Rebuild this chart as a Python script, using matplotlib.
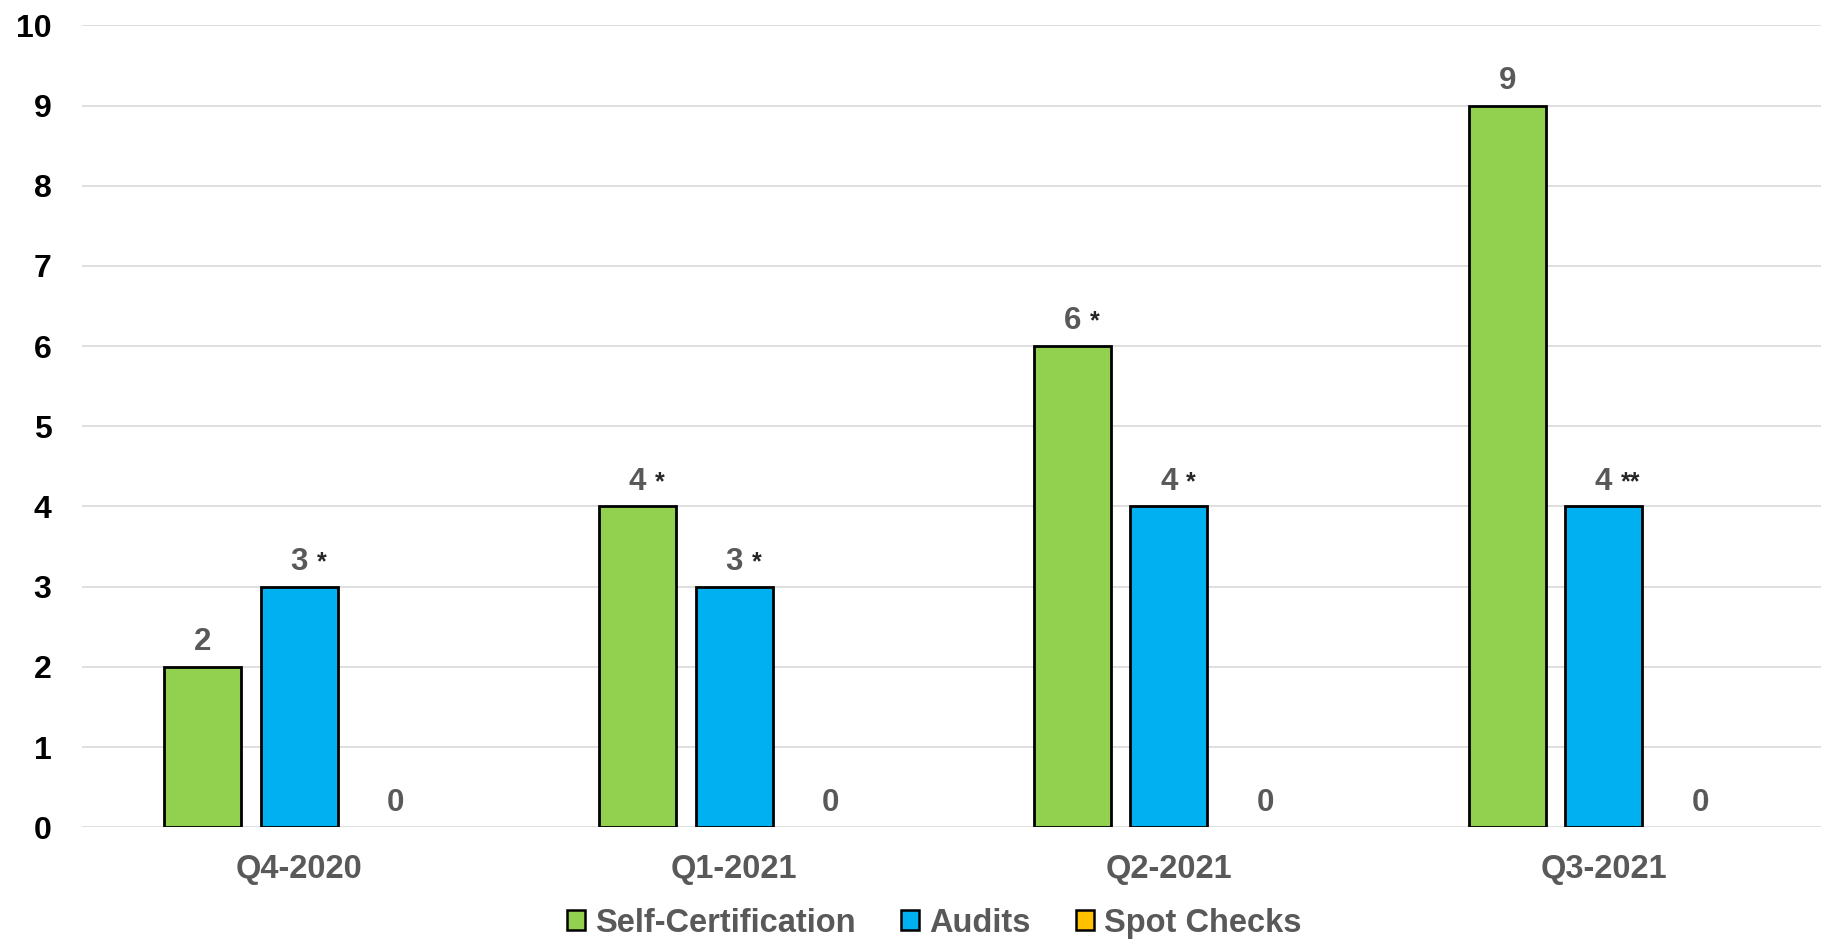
import matplotlib
matplotlib.use("Agg")
import matplotlib.pyplot as plt
from matplotlib.patches import Patch
import numpy as np

categories = ["Q4-2020", "Q1-2021", "Q2-2021", "Q3-2021"]
series_names = ["Self-Certification", "Audits", "Spot Checks"]
self_cert = [2, 4, 6, 9]
audits = [3, 3, 4, 4]
spot_checks = [0, 0, 0, 0]
self_cert_marks = ["", "*", "*", ""]
audits_marks = ["*", "*", "*", "**"]
spot_marks = ["", "", "", ""]
y_ticks = list(range(0, 11))

colors = ["#92D050", "#00B0F0", "#FFC000"]

plt.rcParams['font.family'] = ['Liberation Sans', 'DejaVu Sans']

fig = plt.figure(figsize=(18.21, 9.40), dpi=100)
ax = fig.add_axes([0.045, 0.12, 0.955, 0.853])

x = np.arange(len(categories))
offset = 0.222
width = 0.177
data = [self_cert, audits, spot_checks]
marks = [self_cert_marks, audits_marks, spot_marks]

for i, (vals, mk, col, name) in enumerate(zip(data, marks, colors, series_names)):
    pos = x + (i - 1) * offset
    lws = [2.0 if v != 0 else 0 for v in vals]
    ax.bar(pos, vals, width, color=col, edgecolor="black", linewidth=lws,
           label=name, zorder=3)
    for px, v, m in zip(pos, vals, mk):
        ax.annotate(str(v), xy=(px, v), xytext=(0, 12), textcoords="offset points",
                    ha="center", va="baseline", fontsize=22.5, fontweight="bold",
                    color="#595959", zorder=4)
        if m:
            ax.annotate(m, xy=(px, v), xytext=(12.5, 12.5), textcoords="offset points",
                        ha="left", va="baseline", fontsize=18, fontweight="bold",
                        color="#262626", zorder=4)

ax.set_xlim(-0.5, len(categories) - 0.5)
ax.set_ylim(0, 10)
ax.set_yticks(y_ticks)
ax.set_yticklabels([str(t) for t in y_ticks], fontsize=23, fontweight="bold", color="black")
ax.set_xticks(x)
ax.set_xticklabels(categories, fontsize=23.5, fontweight="bold", color="#595959")
ax.tick_params(axis="both", length=0)
ax.tick_params(axis="y", pad=22)
ax.tick_params(axis="x", pad=19)
ax.grid(axis="y", color="#d9d9d9", linewidth=1.2, zorder=0)
ax.set_axisbelow(True)
for s in ax.spines.values():
    s.set_visible(False)

handles = [Patch(facecolor=c, edgecolor="black", linewidth=1.8) for c in colors]
leg = fig.legend(handles=handles, labels=series_names, loc="lower center",
                 bbox_to_anchor=(0.513, -0.03), ncol=3, frameon=False,
                 fontsize=23.5, handlelength=0.55, handleheight=0.55, handletextpad=0.3,
                 columnspacing=1.4)
for txt in leg.get_texts():
    txt.set_fontweight("bold")
    txt.set_color("#595959")

fig.savefig("out.png", dpi=100)
